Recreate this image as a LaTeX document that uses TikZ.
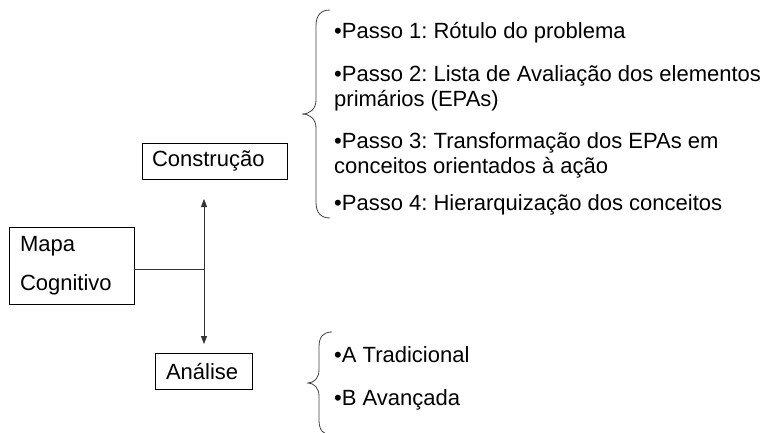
\documentclass[tikz,border=0pt]{standalone}
\usepackage{fontspec}
\setmainfont{Liberation Sans}
\usetikzlibrary{arrows.meta}
\begin{document}
\frenchspacing
\begin{tikzpicture}[x=1pt,y=-1pt,
  box/.style={draw=black,line width=0.8pt,rectangle,inner ysep=0pt,align=left,font=\fontsize{22}{39}\selectfont},
  item/.style={anchor=base west,inner sep=0pt,align=left,font=\fontsize{22}{25}\selectfont},
  brace/.style={draw=black!75,line width=0.8pt},
  conn/.style={draw=black!80,line width=0.8pt},
  tip/.style={-{Triangle[length=8pt,width=6pt]}}]
\useasboundingbox (0,0) rectangle (768,432);
% boxes
\node[box,minimum width=145pt,minimum height=36pt,inner xsep=10pt,text width=125pt] (cons) at (214.5,161) {Construção};
\node[box,minimum width=125pt,minimum height=77pt,inner xsep=11pt,text width=103pt] (mapa) at (71.5,265.5) {Mapa\\Cognitivo};
\node[box,minimum width=97pt,minimum height=36pt,inner xsep=11pt,text width=75pt] (anal) at (203.5,371) {Análise};
% connectors
\coordinate (j) at (204,269);
\coordinate (up) at (204,199);
\coordinate (down) at (204,344);
\draw[conn] (mapa.east |- j) -- (j);
\draw[conn,tip] (j) -- (up);
\draw[conn,tip] (j) -- (down);
% top brace
\draw[brace] (330,10) .. controls (321,10) and (316,15) .. (316,26) -- (316,100)
  .. controls (316,109) and (310,114) .. (302,114)
  .. controls (310,114) and (316,119) .. (316,128) -- (316,202)
  .. controls (316,213) and (321,218) .. (330,218);
% bottom brace
\draw[brace] (332,332) .. controls (323,332) and (319,337) .. (319,347) -- (319,370)
  .. controls (319,378) and (314,383) .. (308,383)
  .. controls (314,383) and (319,388) .. (319,396) -- (319,420)
  .. controls (319,430) and (323,435) .. (332,435);
% items
\node[item] (p1) at (334,38) {•Passo 1: Rótulo do problema};
\node[item] (p2) at (334,81) {•Passo 2: Lista de Avaliação dos elementos};
\node[item] (p2b) at (334,106) {primários (EPAs)};
\node[item] (p3) at (334,148) {•Passo 3: Transformação dos EPAs em};
\node[item] (p3b) at (334,173) {conceitos orientados à ação};
\node[item] (p4) at (334,210) {•Passo 4: Hierarquização dos conceitos};
\node[item] (a) at (334,362) {•A Tradicional};
\node[item] (b) at (334,405) {•B Avançada};
\end{tikzpicture}
\end{document}
